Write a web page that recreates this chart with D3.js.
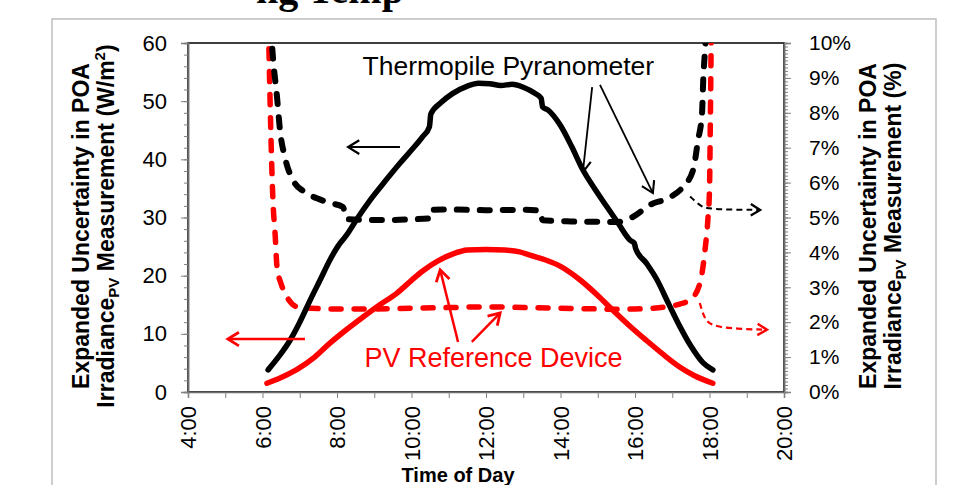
<!DOCTYPE html>
<html>
<head>
<meta charset="utf-8">
<script src="https://cdn.jsdelivr.net/npm/d3@7"></script>
<style>
  body { margin: 0; background: #fff; }
  svg { display: block; font-family: "Liberation Sans", Arial, sans-serif; }
</style>
</head>
<body>
<svg id="chart" width="957" height="485"></svg>
<script>
// thermopile pyranometer, W/m2 (left axis)
const pyrTime = [6.15, 6.45, 6.74, 7.0, 7.28, 7.55, 7.81, 8.05, 8.2, 8.26, 8.54, 8.89, 9.3, 9.7, 10.0, 10.3, 10.48, 10.52, 10.8, 11.1, 11.5, 11.8, 12.1, 12.4, 12.7, 13.0, 13.3, 13.48, 13.52, 13.66, 14.0, 14.3, 14.6, 14.9, 15.25, 15.55, 15.87, 15.98, 16.02, 16.3, 16.59, 16.9, 17.21, 17.5, 17.83, 18.09];
const pyrWm2 = [3.8, 6.2, 8.9, 12.0, 15.8, 19.3, 22.7, 25.3, 26.5, 27.0, 29.8, 33.0, 36.3, 39.4, 41.6, 43.9, 45.6, 47.8, 49.8, 51.3, 52.6, 53.1, 53.0, 52.7, 52.9, 52.4, 51.4, 50.5, 49.0, 48.5, 45.8, 42.2, 38.2, 35.1, 31.8, 29.0, 26.1, 25.6, 24.6, 22.2, 19.3, 15.2, 11.2, 7.9, 5.0, 3.8];

// thermopile pyranometer, % (right axis)
const pyrPctTime = [6.22, 6.28, 6.39, 6.47, 6.6, 6.82, 7.1, 7.46, 7.8, 8.16, 8.22, 8.27, 8.9, 9.5, 10.0, 10.45, 10.5, 11.0, 12.0, 13.0, 13.45, 13.52, 14.0, 14.5, 15.0, 15.5, 15.95, 16.4, 16.94, 17.29, 17.56, 17.69, 17.8, 17.83, 17.88, 17.92];
const pyrPct = [10.5, 9.6, 8.45, 7.5, 6.73, 6.07, 5.75, 5.55, 5.42, 5.3, 5.1, 4.95, 4.93, 4.93, 4.95, 4.97, 5.22, 5.23, 5.21, 5.22, 5.2, 4.92, 4.9, 4.88, 4.88, 4.87, 5.02, 5.36, 5.58, 5.88, 6.36, 7.2, 8.0, 8.9, 9.8, 10.5];

// PV reference device, W/m2 (left axis)
const pvTime = [6.12, 6.5, 6.93, 7.4, 7.81, 8.25, 8.7, 9.15, 9.61, 10.0, 10.3, 10.7, 11.1, 11.5, 12.0, 12.5, 12.9, 13.2, 13.6, 14.0, 14.52, 15.0, 15.4, 15.85, 16.3, 16.75, 17.2, 17.6, 18.09];
const pvWm2 = [1.5, 2.5, 3.9, 6.0, 8.4, 10.7, 12.9, 15.0, 17.0, 19.2, 20.8, 22.5, 23.7, 24.4, 24.5, 24.4, 24.1, 23.5, 22.7, 21.6, 19.3, 16.6, 14.1, 11.4, 8.9, 6.5, 4.3, 2.8, 1.5];

// PV reference device, % (right axis)
const pvPctTime = [6.16, 6.2, 6.24, 6.28, 6.34, 6.39, 6.5, 6.6, 6.93, 7.3, 8.0, 9.0, 10.0, 11.0, 12.0, 13.0, 14.0, 15.0, 15.5, 16.0, 16.5, 16.9, 17.2, 17.48, 17.74, 17.88, 17.96, 18.0, 18.02, 18.04, 18.05];
const pvPct = [10.5, 8.5, 6.8, 5.5, 4.5, 3.58, 3.1, 2.84, 2.44, 2.4, 2.38, 2.38, 2.4, 2.42, 2.44, 2.42, 2.4, 2.38, 2.37, 2.38, 2.4, 2.45, 2.52, 2.64, 3.1, 4.07, 5.0, 5.8, 7.5, 9.5, 10.5];

const hourTicks = d3.range(4, 21, 1);
const leftTicks = d3.range(0, 61, 10);
const rightTicks = d3.range(0, 11, 1);

const svg = d3.select("#chart");

// outer figure frame
svg.append("rect")
    .attr("x", 52).attr("y", 19)
    .attr("width", 884).attr("height", 500)
    .attr("fill", "none")
    .attr("stroke", "#bdbdbd")
    .attr("stroke-width", 1.5);

// clipped title fragment at the very top
svg.append("text")
    .attr("x", 330).attr("y", 3)
    .attr("text-anchor", "middle")
    .style("font-family", "'Liberation Serif', 'Times New Roman', serif")
    .style("font-weight", "bold")
    .style("font-size", "40px")
    .text("ng Temp");

const x = d3.scaleLinear().domain([4, 20]).range([188, 784]);
const yL = d3.scaleLinear().domain([0, 60]).range([392, 43]);
const yR = d3.scaleLinear().domain([0, 10]).range([392, 43]);

// plot box
svg.append("rect")
    .attr("x", 188).attr("y", 43)
    .attr("width", 596).attr("height", 349)
    .attr("fill", "none")
    .attr("stroke", "#000")
    .attr("stroke-width", 1.5);

function styleAxis(g) {
    g.select(".domain").attr("stroke", "#6e6e6e").attr("stroke-width", 1.5);
    g.selectAll(".tick line").attr("stroke", "#808080");
    g.selectAll(".tick text").attr("fill", "#000").style("font-size", "22px");
}

// left axis, minor then major
svg.append("g")
    .attr("transform", "translate(188,0)")
    .call(d3.axisLeft(yL).tickValues(d3.range(0, 61, 2)).tickSize(4).tickFormat(""))
    .call(styleAxis);
svg.append("g")
    .attr("transform", "translate(188,0)")
    .call(d3.axisLeft(yL).tickValues(leftTicks).tickSize(7).tickPadding(14))
    .call(styleAxis);

// right axis
svg.append("g")
    .attr("transform", "translate(784,0)")
    .call(d3.axisRight(yR).tickValues(d3.range(0, 10.01, 0.1)).tickSize(4).tickFormat(""))
    .call(styleAxis);
svg.append("g")
    .attr("transform", "translate(784,0)")
    .call(d3.axisRight(yR).tickValues(rightTicks).tickSize(7).tickPadding(18).tickFormat(d => d + "%"))
    .call(styleAxis)
    .selectAll(".tick text").style("font-size", "21px");

// bottom axis
const xAxis = svg.append("g")
    .attr("transform", "translate(0,392)")
    .call(d3.axisBottom(x).tickValues(hourTicks).tickSize(6)
        .tickFormat(d => d % 2 === 0 ? d + ":00" : ""))
    .call(styleAxis);
xAxis.selectAll(".tick text")
    .attr("transform", "rotate(-90)")
    .attr("x", -14).attr("y", 0).attr("dy", "0.36em")
    .style("text-anchor", "end");

// axis titles
svg.append("text")
    .attr("x", 458).attr("y", 482)
    .attr("text-anchor", "middle")
    .style("font-weight", "bold").style("font-size", "20px")
    .text("Time of Day");

function axisTitle(cx, cy, lastLine) {
    const g = svg.append("g").attr("transform", `translate(${cx},${cy}) rotate(-90)`)
        .style("font-weight", "bold").style("font-size", "23px");
    g.append("text").attr("text-anchor", "middle").attr("y", 0)
        .text("Expanded Uncertainty in POA");
    const t = g.append("text").attr("text-anchor", "middle").attr("y", 25);
    t.append("tspan").text("Irradiance");
    t.append("tspan").attr("dy", 5).style("font-size", "15px").text("PV");
    t.append("tspan").attr("dy", -5).text(" Measurement ");
    lastLine(t);
}
axisTitle(89, 226, t => {
    t.append("tspan").text("(W/m");
    t.append("tspan").attr("dy", -9).style("font-size", "15px").text("2");
    t.append("tspan").attr("dy", 9).text(")");
});
axisTitle(876, 226, t => t.append("tspan").text("(%)"));

// series
svg.append("clipPath").attr("id", "plotClip")
    .append("rect").attr("x", 188).attr("y", 43).attr("width", 596).attr("height", 349);

const plot = svg.append("g").attr("clip-path", "url(#plotClip)");

function series(times, vals, yScale, color, width, dash) {
    const line = d3.line()
        .x(d => x(d[0]))
        .y(d => yScale(d[1]))
        .curve(d3.curveMonotoneX);
    const p = plot.append("path")
        .datum(d3.zip(times, vals))
        .attr("d", line)
        .attr("fill", "none")
        .attr("stroke", color)
        .attr("stroke-width", width)
        .attr("stroke-linejoin", "round")
        .attr("stroke-linecap", "round");
    if (dash) p.attr("stroke-dasharray", dash);
}

series(pvPctTime, pvPct, yR, "#ff0000", 5.5, "10,13");
series(pyrPctTime, pyrPct, yR, "#000", 6, "10,13");
series(pvTime, pvWm2, yL, "#ff0000", 5.5, null);
series(pyrTime, pyrWm2, yL, "#000", 5.5, null);

// annotation arrows, in (hour, W/m2) coordinates
const arrows = [
    { pts: [[9.69, 42.1], [8.3, 42.1]], color: "#000", w: 2, dash: null, head: 13 },
    { pts: [[7.14, 9.1], [5.07, 9.1]], color: "#ff0000", w: 2.5, dash: null, head: 13 },
    { pts: [[14.85, 52.4], [14.6, 37.8]], color: "#000", w: 1.8, dash: null, head: 13 },
    { pts: [[15.06, 52.8], [16.48, 34.2]], color: "#000", w: 1.8, dash: null, head: 13 },
    { pts: [[11.25, 8.6], [10.77, 21.0]], color: "#ff0000", w: 2.5, dash: null, head: 13 },
    { pts: [[11.62, 8.6], [12.38, 13.6]], color: "#ff0000", w: 2.5, dash: null, head: 13 },
    { pts: [[17.48, 33.6], [17.75, 32.0], [17.95, 31.4], [19.36, 31.3]], color: "#000", w: 2, dash: "6,4", head: 11 },
    { pts: [[17.74, 15.3], [17.86, 12.6], [18.09, 11.0], [19.54, 10.7]], color: "#ff0000", w: 2.2, dash: "6,4", head: 11 }
];

const arrowLine = d3.line().x(d => x(d[0])).y(d => yL(d[1])).curve(d3.curveBasis);

arrows.forEach(a => {
    const p = svg.append("path")
        .attr("d", arrowLine(a.pts))
        .attr("fill", "none")
        .attr("stroke", a.color)
        .attr("stroke-width", a.w);
    if (a.dash) p.attr("stroke-dasharray", a.dash);
    const n = a.pts.length;
    const x1 = x(a.pts[n - 2][0]), y1 = yL(a.pts[n - 2][1]);
    const x2 = x(a.pts[n - 1][0]), y2 = yL(a.pts[n - 1][1]);
    const ang = Math.atan2(y2 - y1, x2 - x1);
    const s = a.head, spread = 0.55;
    svg.append("path")
        .attr("d", `M${x2 - s * Math.cos(ang - spread)},${y2 - s * Math.sin(ang - spread)}L${x2},${y2}L${x2 - s * Math.cos(ang + spread)},${y2 - s * Math.sin(ang + spread)}`)
        .attr("fill", "none")
        .attr("stroke", a.color)
        .attr("stroke-width", a.w + 0.3)
        .attr("stroke-linejoin", "miter");
});

// labels
svg.append("text")
    .attr("x", x(12.6)).attr("y", yL(54.5))
    .attr("text-anchor", "middle")
    .style("font-size", "26.5px")
    .text("Thermopile Pyranometer");

svg.append("text")
    .attr("x", x(12.2)).attr("y", yL(4.3))
    .attr("text-anchor", "middle")
    .attr("fill", "#ff0000")
    .style("font-size", "27px")
    .text("PV Reference Device");
</script>
</body>
</html>
